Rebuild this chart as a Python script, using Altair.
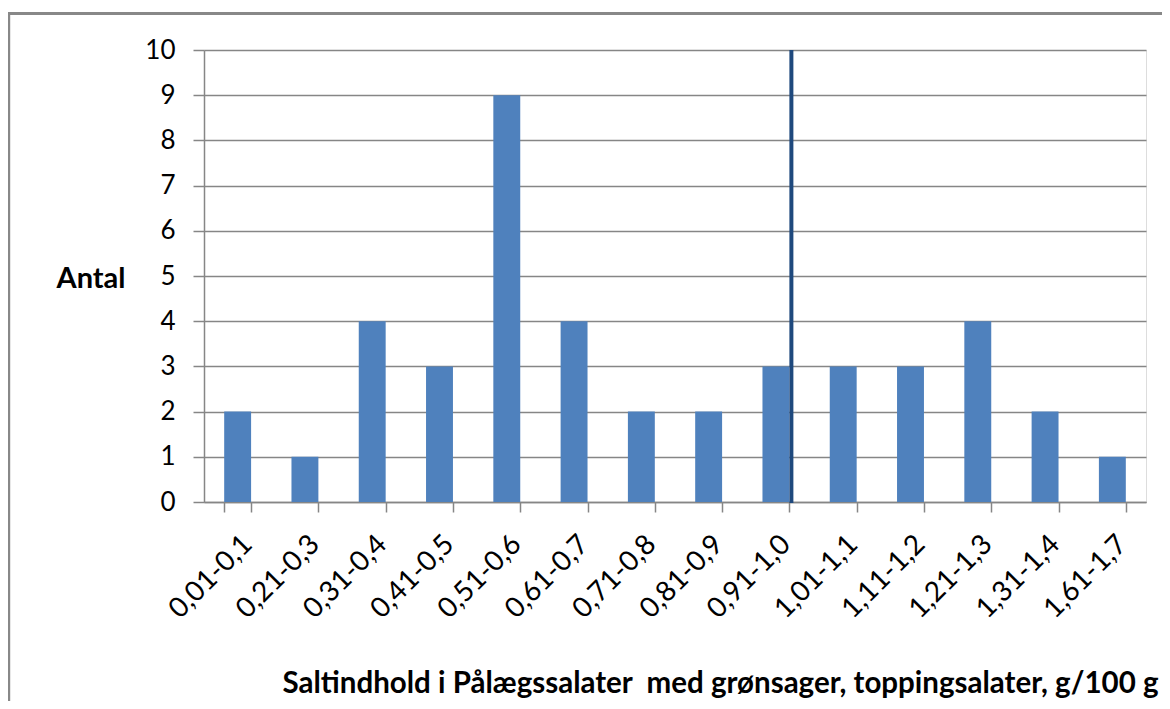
import altair as alt
import pandas as pd

categories = ["0,01-0,1", "0,21-0,3", "0,31-0,4", "0,41-0,5", "0,51-0,6", "0,61-0,7",
              "0,71-0,8", "0,81-0,9", "0,91-1,0", "1,01-1,1", "1,11-1,2", "1,21-1,3",
              "1,31-1,4", "1,61-1,7"]
counts = [2, 1, 4, 3, 9, 4, 2, 2, 3, 3, 3, 4, 2, 1]
y_ticks = [0, 1, 2, 3, 4, 5, 6, 7, 8, 9, 10]
marker_category = "0,91-1,0"

df = pd.DataFrame({"kat": categories, "antal": counts})
mk = pd.DataFrame({"kat": [marker_category]})

FONT = "Lato"
W, H = 942, 452
PL, PT, PR, PB = 196, 42, 16, 199

xscale = alt.Scale(domain=categories, paddingInner=0.6, paddingOuter=0.3)
xaxis = alt.Axis(title="Saltindhold i Pålægssalater\u00a0 med grønsager, toppingsalater, g/100 g",
                 labelAngle=-45, labelFontSize=28, labelFont=FONT, labelColor="#000000",
                 labelPadding=18, tickSize=10, tickColor="#868686", tickWidth=1.5,
                 domainColor="#868686", domainWidth=1.5, tickBand="extent",
                 titleFont=FONT, titleFontSize=29.5, titleFontWeight="bold",
                 titleColor="#000000", titleAnchor="end", titleAlign="right",
                 titleX=W + 12, titleY=190, titleBaseline="alphabetic")

bars = alt.Chart(df).mark_bar(color="#4f81bd").encode(
    x=alt.X("kat:N", sort=categories, scale=xscale, axis=xaxis),
    y=alt.Y("antal:Q", scale=alt.Scale(domain=[0, 10], nice=False),
            axis=alt.Axis(title="Antal", values=y_ticks, labelOverlap=False,
                          labelFontSize=26, labelFont=FONT, labelColor="#000000",
                          labelPadding=18, tickSize=11, tickColor="#868686", tickWidth=1.5,
                          domainColor="#868686", domainWidth=1.5,
                          grid=True, gridColor="#868686", gridWidth=1.5,
                          titleAngle=0, titleFont=FONT, titleFontSize=29, titleFontWeight="bold",
                          titleColor="#000000", titleAlign="right", titleBaseline="middle",
                          titleX=-79, titleY=228)),
)

rule = alt.Chart(mk).mark_rule(color="#1f497d", strokeWidth=4, xOffset=2).encode(
    x=alt.X("kat:N", sort=categories, scale=xscale, bandPosition=1, axis=xaxis),
    y=alt.value(0),
    y2=alt.value(H + 1),
)

frame = alt.Chart(mk).mark_rect(fill=None, stroke="#888888", strokeWidth=3).encode(
    x=alt.value(-PL + 0.7), x2=alt.value(W + PR + 4),
    y=alt.value(-PT + 5.5), y2=alt.value(H + PB + 4),
)

chart = alt.layer(frame, bars, rule).properties(
    width=W, height=H,
    autosize=alt.AutoSizeParams(type="none"),
    padding={"left": PL, "top": PT, "right": PR, "bottom": PB},
).configure_view(stroke=None).configure(background="white")

chart.save("out.html", embed_options={"renderer": "svg", "actions": False})
